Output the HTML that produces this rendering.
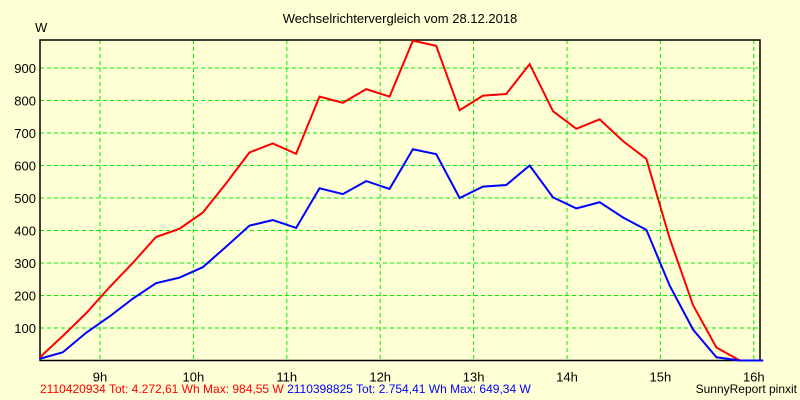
<!DOCTYPE html>
<html><head><meta charset="utf-8"><style>
body{margin:0;background:#ffffd6;}
svg{display:block;font-family:"Liberation Sans",sans-serif;}
</style></head><body>
<svg id="chart" width="800" height="400">
<rect width="800" height="400" fill="#ffffd6"/>
<text x="400" y="23" text-anchor="middle" font-size="13">Wechselrichtervergleich vom 28.12.2018</text>
<text x="35" y="32" font-size="13">W</text>
<g id="grid"></g><g id="series"></g>
<text x="40" y="393" font-size="12" fill="#ff0000">2110420934 Tot: 4.272,61 Wh Max: 984,55 W <tspan fill="#0000ff">2110398825 Tot: 2.754,41 Wh Max: 649,34 W</tspan></text>
<text x="797" y="393" text-anchor="end" font-size="12">SunnyReport pinxit</text>
</svg>
<script>
const times=[8.35,8.6,8.85,9.1,9.35,9.6,9.85,10.1,10.35,10.6,10.85,11.1,11.35,11.6,11.85,12.1,12.35,12.6,12.85,13.1,13.35,13.6,13.85,14.1,14.35,14.6,14.85,15.1,15.35,15.6,15.85,16.1];
const redValues=[8,75,145,225,300,380,405,455,545,640,668,636,812,793,835,812,984,968,770,815,820,912,767,713,742,675,620,375,170,40,0,0];
const blueValues=[5,25,85,135,190,238,255,287,350,415,432,408,530,512,552,528,650,635,500,535,540,600,502,468,487,440,402,230,95,10,0,0];
const yTicks=[100,200,300,400,500,600,700,800,900];
const xTicks=[9,10,11,12,13,14,15,16];
const NS="http://www.w3.org/2000/svg";
const L=40,R=760,T=40,B=360.5;
const X=h=>100+(h-9)*93.4;
const Y=v=>B-v*0.325;
function mk(tag,attrs,parent){const e=document.createElementNS(NS,tag);for(const k in attrs)e.setAttribute(k,attrs[k]);parent.appendChild(e);return e;}
const g=document.getElementById('grid');
yTicks.forEach(v=>{
 const l=mk('line',{x1:L,x2:R,y1:Y(v),y2:Y(v),stroke:'#00ee00','stroke-dasharray':'4,3'},g);
 
 
 const t=mk('text',{x:L-4,y:Y(v)+5,'text-anchor':'end','font-size':'13'},g);
 t.textContent=v;
 
 
});
xTicks.forEach(h=>{
 const l=mk('line',{x1:X(h),x2:X(h),y1:T,y2:B,stroke:'#00ee00','stroke-dasharray':'4,3'},g);
 
 
 const t=mk('text',{x:X(h),y:B+21,'text-anchor':'middle','font-size':'13'},g);
 t.textContent=h+'h';
 
 
});
const frame=mk('rect',{x:L,y:T,width:R-L,height:B-T,fill:'none',stroke:'#000','stroke-width':1.5},g);


const s=document.getElementById('series');
function line(vals,color,name){
 const p=mk('polyline',{points:vals.map((v,i)=>X(times[i])+','+Y(v)).join(' '),fill:'none',stroke:color,'stroke-width':2},s);
 
 
}
line(redValues,'#ff0000','series-2110420934');
line(blueValues,'#0000ff','series-2110398825');
</script>
</body></html>
